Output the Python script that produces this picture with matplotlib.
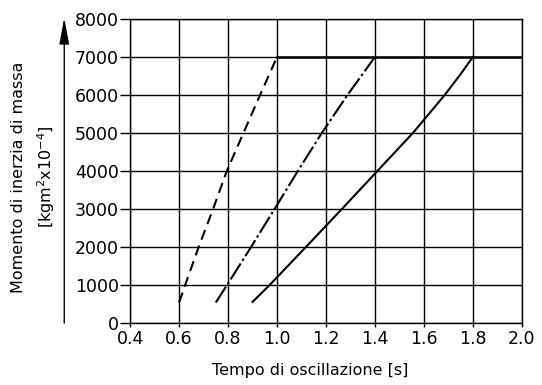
import matplotlib
matplotlib.use("Agg")
import matplotlib.pyplot as plt

# curve points (period s, inertia kgm2 x10^-4)
t_dash = [0.60, 0.625, 0.68, 0.739, 0.795, 0.863, 0.931, 1.00]
j_dash = [540, 1000, 2000, 3000, 4000, 5000, 6000, 7000]

t_dashdot = [0.75, 0.796, 0.894, 0.990, 1.085, 1.183, 1.288, 1.40]
j_dashdot = [540, 1000, 2000, 3000, 4000, 5000, 6000, 7000]

t_solid = [0.90, 0.970, 1.118, 1.265, 1.41, 1.555, 1.685, 1.75, 1.80]
j_solid = [555, 1000, 2000, 3000, 4000, 5000, 6000, 6550, 7000]

t_flat = [1.0, 2.0]
j_flat = [7000, 7000]

xticks = [0.4, 0.6, 0.8, 1.0, 1.2, 1.4, 1.6, 1.8, 2.0]
yticks = [0, 1000, 2000, 3000, 4000, 5000, 6000, 7000, 8000]

plt.rcParams['font.family'] = ['DejaVu Sans']

fig = plt.figure(figsize=(5.42, 3.85), dpi=100)
ax = fig.add_axes([0.240, 0.161, 0.723, 0.790])

ax.plot(t_dash, j_dash, color="black", lw=1.5, linestyle=(0, (5, 3)))
ax.plot(t_dashdot, j_dashdot, color="black", lw=1.5, linestyle=(0, (9, 1.5, 1.2, 1.5)))
ax.plot(t_solid, j_solid, color="black", lw=1.5)
ax.plot(t_flat, j_flat, color="black", lw=1.8)

ax.set_xlim(0.4, 2.0)
ax.set_ylim(0, 8000)
ax.set_xticks(xticks)
ax.set_xticklabels(["%.1f" % v for v in xticks])
ax.set_yticks(yticks)
ax.grid(True, color="black", lw=1)
for s in ax.spines.values():
    s.set_linewidth(1)
ax.tick_params(axis="y", length=7, width=1, labelsize=12.5, pad=1)
ax.tick_params(axis="x", length=3, width=1, labelsize=12.5, pad=2)

ax.set_xlabel("Tempo di oscillazione [s]", fontsize=11.5)
ax.xaxis.set_label_coords(0.46, -0.13)

# arrow instead of y axis line
ax.annotate("", xy=(-0.168, 1.003), xytext=(-0.168, 0.0),
            xycoords="axes fraction", textcoords="axes fraction",
            arrowprops=dict(arrowstyle="-|>,head_length=1.6,head_width=0.3",
                            color="black", lw=1, shrinkA=0, shrinkB=0),
            annotation_clip=False)

ax.text(-0.245, 0.48, "Momento di inerzia di massa\n[kgm$^2$x10$^{-4}$]",
        transform=ax.transAxes, rotation=90, ha="center", va="center",
        fontsize=11.5, multialignment="center", linespacing=1.6)

fig.savefig("out.png", dpi=100)
